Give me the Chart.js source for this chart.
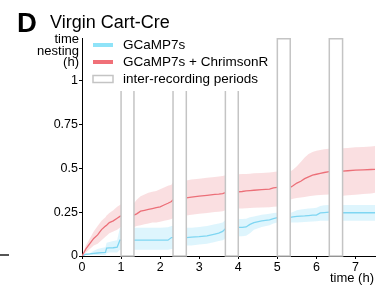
<!DOCTYPE html>
<html>
<head>
<meta charset="utf-8">
<script src="https://cdn.jsdelivr.net/npm/chart.js@4.4.0/dist/chart.umd.min.js"></script>
<style>
  html, body { margin: 0; padding: 0; background: #fff; }
  #wrap { position: relative; width: 382px; height: 293px; font-family: "Liberation Sans", Arial, sans-serif; color: #000; }
  #wrap canvas { position: absolute; left: 0; top: 0; }
  .txt { position: absolute; white-space: nowrap; line-height: 1; }
  #panel { left: 17px; top: 9px; font-size: 27.5px; font-weight: bold; }
  #title { left: 50px; top: 13px; font-size: 18px; }
  #ylab { right: 303px; top: 33px; font-size: 13px; line-height: 11.5px; text-align: right; }
  #xlab { right: 8px; top: 271px; font-size: 13px; }
  #stub { position: absolute; left: 0; top: 254px; width: 9px; height: 1.5px; background: #555; }
</style>
</head>
<body>
<div id="wrap">
  <canvas id="chart" width="382" height="293"></canvas>
  <div class="txt" id="panel">D</div>
  <div class="txt" id="title">Virgin Cart-Cre</div>
  <div class="txt" id="ylab">time<br>nesting<br>(h)</div>
  <div class="txt" id="xlab">time (h)</div>
  <div id="stub"></div>
</div>
<script>
// hours since start; null rows break the curves at the inter-recording periods
const hours = [
  0, 0.1, 0.2, 0.3, 0.4, 0.5, 0.6, 0.63, 0.7, 0.8, 0.9, 0.97, 1.0,
  1.165,
  1.33, 1.4, 1.5, 1.6, 1.7, 1.8, 1.9, 2.0, 2.1, 2.2, 2.29, 2.33,
  2.5,
  2.67, 2.8, 3.0, 3.2, 3.4, 3.5, 3.6, 3.67,
  3.835,
  4.0, 4.1, 4.2, 4.3, 4.4, 4.6, 4.8, 4.9, 5.0,
  5.165,
  5.33, 5.4, 5.5, 5.6, 5.7, 5.8, 5.9, 6.0, 6.1, 6.2, 6.33,
  6.5,
  6.67, 6.8, 7.0, 7.2, 7.4, 7.5
];

// GCaMP7s + ChrimsonR
const chrimsonMean = [
  0, 0.04, 0.07, 0.10, 0.12, 0.15, 0.17, 0.175, 0.19, 0.20, 0.215, 0.225, 0.228,
  null,
  0.233, 0.24, 0.255, 0.26, 0.265, 0.27, 0.275, 0.28, 0.29, 0.30, 0.31, 0.32,
  null,
  0.33, 0.335, 0.34, 0.345, 0.35, 0.352, 0.355, 0.36,
  null,
  0.365, 0.367, 0.37, 0.372, 0.374, 0.377, 0.38, 0.388, 0.39,
  null,
  0.39, 0.40, 0.415, 0.425, 0.44, 0.45, 0.46, 0.465, 0.47, 0.475, 0.48,
  null,
  0.483, 0.485, 0.488, 0.49, 0.492, 0.493
];
const chrimsonHigh = [
  0, 0.06, 0.10, 0.14, 0.17, 0.20, 0.22, 0.23, 0.245, 0.26, 0.28, 0.29, 0.295,
  null,
  0.30, 0.32, 0.34, 0.35, 0.36, 0.365, 0.37, 0.38, 0.39, 0.40, 0.405, 0.42,
  null,
  0.43, 0.435, 0.44, 0.445, 0.45, 0.452, 0.455, 0.46,
  null,
  0.465, 0.466, 0.467, 0.468, 0.47, 0.472, 0.475, 0.478, 0.48,
  null,
  0.48, 0.49, 0.51, 0.535, 0.56, 0.58, 0.592, 0.598, 0.603, 0.607, 0.61,
  null,
  0.613, 0.615, 0.618, 0.62, 0.623, 0.625
];
const chrimsonLow = [
  0, 0.02, 0.04, 0.06, 0.07, 0.09, 0.11, 0.115, 0.13, 0.14, 0.15, 0.16, 0.165,
  null,
  0.165, 0.17, 0.175, 0.18, 0.185, 0.19, 0.19, 0.195, 0.20, 0.205, 0.21, 0.215,
  null,
  0.23, 0.235, 0.24, 0.245, 0.25, 0.252, 0.255, 0.26,
  null,
  0.27, 0.27, 0.272, 0.273, 0.275, 0.276, 0.278, 0.28, 0.282,
  null,
  0.32, 0.325, 0.33, 0.333, 0.336, 0.34, 0.342, 0.345, 0.347, 0.349, 0.35,
  null,
  0.343, 0.345, 0.348, 0.352, 0.356, 0.36
];

// GCaMP7s alone
const gcampMean = [
  0, 0.01, 0.012, 0.015, 0.017, 0.019, 0.02, 0.045, 0.046, 0.047, 0.05, 0.09, 0.09,
  null,
  0.09, 0.09, 0.09, 0.09, 0.09, 0.09, 0.09, 0.09, 0.09, 0.09, 0.105, 0.105,
  null,
  0.105, 0.107, 0.11, 0.115, 0.125, 0.13, 0.14, 0.155,
  null,
  0.163, 0.163, 0.165, 0.18, 0.19, 0.20, 0.205, 0.212, 0.218,
  null,
  0.22, 0.222, 0.225, 0.227, 0.228, 0.23, 0.232, 0.233, 0.245, 0.247, 0.25,
  null,
  0.246, 0.246, 0.246, 0.246, 0.246, 0.246
];
const gcampHigh = [
  0, 0.01, 0.015, 0.03, 0.04, 0.045, 0.05, 0.075, 0.08, 0.085, 0.09, 0.16, 0.16,
  null,
  0.16, 0.16, 0.16, 0.16, 0.16, 0.16, 0.16, 0.16, 0.162, 0.163, 0.17, 0.17,
  null,
  0.16, 0.16, 0.165, 0.17, 0.18, 0.185, 0.19, 0.205,
  null,
  0.21, 0.21, 0.212, 0.22, 0.225, 0.235, 0.24, 0.245, 0.246,
  null,
  0.245, 0.25, 0.26, 0.265, 0.268, 0.27, 0.272, 0.275, 0.285, 0.288, 0.29,
  null,
  0.29, 0.29, 0.29, 0.29, 0.29, 0.29
];
const gcampLow = [
  0, 0.005, 0.005, 0.005, 0.005, 0.005, 0.005, 0.015, 0.02, 0.02, 0.02, 0.035, 0.035,
  null,
  0.035, 0.035, 0.035, 0.035, 0.035, 0.035, 0.035, 0.035, 0.035, 0.035, 0.04, 0.04,
  null,
  0.06, 0.06, 0.065, 0.07, 0.08, 0.085, 0.09, 0.10,
  null,
  0.113, 0.113, 0.115, 0.13, 0.15, 0.165, 0.175, 0.185, 0.19,
  null,
  0.19, 0.19, 0.19, 0.192, 0.193, 0.195, 0.196, 0.197, 0.2, 0.2, 0.2,
  null,
  0.2, 0.2, 0.2, 0.2, 0.2, 0.2
];

// inter-recording periods (h)
const gapStarts = [1.0, 2.33, 3.67, 5.0, 6.33];
const gapEnds = [1.33, 2.67, 4.0, 5.33, 6.67];
const gapLabel = 'inter-recording periods';

const yTicks = [0, 0.25, 0.5, 0.75, 1];
const xTicks = [0, 1, 2, 3, 4, 5, 6, 7];

const FONT = '"Liberation Sans", Arial, sans-serif';
const toPoints = ys => hours.map((h, i) => ({ x: h, y: ys[i] }));

// grey boxes for the gaps plus the legend box that sits over them
const overlayPlugin = {
  id: 'overlay',
  afterDatasetsDraw(chart) {
    const { ctx, chartArea, scales } = chart;
    ctx.save();
    ctx.strokeStyle = '#c4c4c4';
    ctx.lineWidth = 1.5;
    gapStarts.forEach((s, i) => {
      const x0 = scales.x.getPixelForValue(s);
      const x1 = scales.x.getPixelForValue(gapEnds[i]);
      ctx.fillStyle = '#fff';
      ctx.fillRect(x0, chartArea.top, x1 - x0, chartArea.bottom - chartArea.top);
      ctx.strokeRect(x0, chartArea.top + 0.75, x1 - x0, chartArea.bottom - chartArea.top - 0.75);
    });

    // legend
    const lx = chartArea.left + 11;
    const ly = chartArea.top + 7;
    ctx.fillStyle = '#fff';
    ctx.fillRect(chartArea.left + 4, chartArea.top, 165, 53);
    const items = [chart.data.datasets[1], chart.data.datasets[0]];
    ctx.font = '13.5px ' + FONT;
    ctx.textBaseline = 'middle';
    items.forEach((ds, i) => {
      const y = ly + i * 17;
      ctx.strokeStyle = ds.legendColor;
      ctx.lineWidth = 4;
      ctx.beginPath();
      ctx.moveTo(lx, y);
      ctx.lineTo(lx + 20, y);
      ctx.stroke();
      ctx.fillStyle = '#000';
      ctx.fillText(ds.label, lx + 30, y + 0.5);
    });
    const y3 = ly + 34;
    ctx.strokeStyle = '#c4c4c4';
    ctx.lineWidth = 1.5;
    ctx.strokeRect(lx, y3 - 3.5, 20, 7);
    ctx.fillStyle = '#000';
    ctx.fillText(gapLabel, lx + 30, y3 + 0.5);
    ctx.restore();
  }
};

const ctx = document.getElementById('chart').getContext('2d');
const chart = new Chart(ctx, {
  type: 'line',
  data: {
    datasets: [
      {
        label: 'GCaMP7s + ChrimsonR',
        data: toPoints(chrimsonMean),
        borderColor: '#ec6f78',
        legendColor: '#f07078',
        borderWidth: 1.3,
        order: 0
      },
      {
        label: 'GCaMP7s',
        data: toPoints(gcampMean),
        borderColor: '#7fd6f2',
        legendColor: '#8fe3f8',
        borderWidth: 1.3,
        order: 0
      },
      {
        label: 'chrimsonLow',
        data: toPoints(chrimsonLow),
        borderWidth: 0,
        order: 2
      },
      {
        label: 'chrimsonHigh',
        data: toPoints(chrimsonHigh),
        borderWidth: 0,
        backgroundColor: 'rgba(230, 110, 120, 0.22)',
        fill: '-1',
        order: 2
      },
      {
        label: 'gcampLow',
        data: toPoints(gcampLow),
        borderWidth: 0,
        order: 1
      },
      {
        label: 'gcampHigh',
        data: toPoints(gcampHigh),
        borderWidth: 0,
        backgroundColor: 'rgba(135, 218, 248, 0.28)',
        fill: '-1',
        order: 1
      }
    ]
  },
  options: {
    responsive: false,
    animation: false,
    spanGaps: false,
    layout: { padding: { top: 38, right: 7, left: 0, bottom: 0 } },
    elements: { point: { radius: 0 }, line: { tension: 0 } },
    plugins: { legend: { display: false }, tooltip: { enabled: false } },
    scales: {
      x: {
        type: 'linear',
        min: 0,
        max: 7.5,
        afterFit: s => { s.height = 37; },
        afterBuildTicks: s => { s.ticks = xTicks.map(v => ({ value: v })); },
        ticks: { color: '#000', font: { family: FONT, size: 12.5 }, padding: 1, maxRotation: 0, callback: v => String(v) },
        grid: { drawOnChartArea: false, drawTicks: true, tickLength: 3, color: '#000' },
        border: { color: '#000', width: 1 }
      },
      y: {
        min: 0,
        max: 1.24,
        afterFit: s => { s.width = 82; },
        afterBuildTicks: s => { s.ticks = yTicks.map(v => ({ value: v })); },
        ticks: { color: '#000', font: { family: FONT, size: 12.5 }, padding: 1, callback: v => String(v) },
        grid: { drawOnChartArea: false, drawTicks: true, tickLength: 3, color: '#000' },
        border: { color: '#000', width: 1 }
      }
    }
  },
  plugins: [overlayPlugin]
});
</script>
</body>
</html>
